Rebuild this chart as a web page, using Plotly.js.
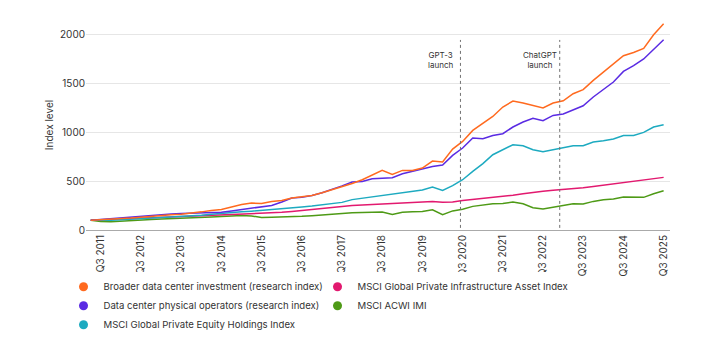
<!DOCTYPE html>
<html>
<head>
<meta charset="utf-8">
<script src="https://cdn.plot.ly/plotly-3.0.1.min.js"></script>
<style>html,body{margin:0;padding:0;background:#fff;}#chart{width:705px;height:354px;}</style>
</head>
<body>
<div id="chart"></div>
<script>
// Quarterly series, first point Q2 2011, last point Q3 2025 (58 quarters)
const startYear = 2011;
const startQuarter = 2;
const quarterCount = 58;

const broaderDataCenter = [100,104,110,115,122,130,140,148,155,162,172,185,200,210,235,260,275,270,290,300,326,340,353,380,410,439,475,513,561,608,567,608,608,632,704,694,826,904,1016,1085,1159,1255,1316,1296,1268,1245,1296,1319,1391,1432,1527,1612,1697,1779,1812,1853,1993,2105];
const physicalOperators = [100,108,118,128,138,145,152,158,163,168,173,175,178,182,195,208,222,238,250,285,326,335,353,380,411,450,490,496,523,528,534,574,600,625,649,663,761,837,939,932,965,983,1051,1102,1139,1115,1169,1184,1228,1268,1357,1432,1510,1618,1677,1745,1840,1942];
const privateEquity = [100,97,100,105,110,115,120,125,130,138,143,150,160,170,178,185,192,200,207,212,224,235,245,255,268,282,310,325,340,350,365,380,398,408,439,404,452,513,598,677,768,819,870,860,819,799,819,843,860,860,898,911,928,965,965,996,1051,1074];
const privateInfra = [100,104,108,112,116,120,124,128,132,136,140,144,148,152,156,160,164,168,174,180,190,200,210,222,235,242,250,256,262,268,272,278,284,288,292,282,285,300,310,318,330,343,355,370,385,395,405,412,420,432,445,458,470,485,495,505,520,537];
const acwiImi = [100,88,85,92,100,105,108,112,115,120,126,130,133,138,145,148,143,128,130,131,133,140,146,155,163,170,175,178,180,184,159,180,186,190,207,156,195,212,241,255,268,270,286,268,228,214,231,248,268,265,292,309,316,337,337,333,370,401];

const seriesNames = [
  "Broader data center investment (research index)",
  "MSCI Global Private Infrastructure Asset Index",
  "Data center physical operators (research index)",
  "MSCI ACWI IMI",
  "MSCI Global Private Equity Holdings Index"
];
const seriesColors = ["#FF6A1F", "#E2196F", "#5A2BE3", "#4E9A16", "#1DAAC0"];
const seriesValues = [broaderDataCenter, privateInfra, physicalOperators, acwiImi, privateEquity];

const tickYears = [2011,2012,2013,2014,2015,2016,2017,2018,2019,2020,2021,2022,2023,2024,2025];
const events = [
  {date: "2020-06-11", label: "GPT-3<br>launch"},
  {date: "2022-11-30", label: "ChatGPT<br>launch"}
];

function pad(n){return (n<10?"0":"")+n;}
const quarterDates = [];
for (let i = 0; i < quarterCount; i++) {
  const k = (startQuarter - 1) + i;
  const y = startYear + Math.floor(k / 4);
  const m = (k % 4) * 3 + 1;
  quarterDates.push(y + "-" + pad(m) + "-01");
}

const FONT = "Inter, 'Noto Sans', sans-serif";
const traces = [];
const drawOrder = [3, 1, 4, 2, 0];
drawOrder.forEach(function(s){
  traces.push({
    type: "scatter", mode: "lines",
    x: quarterDates, y: seriesValues[s],
    name: seriesNames[s],
    line: {color: seriesColors[s], width: 1.5},
    showlegend: false,
    hovertemplate: "%{y}<extra>" + seriesNames[s] + "</extra>"
  });
});
seriesNames.forEach(function(n, s){
  traces.push({
    type: "scatter", mode: "markers",
    x: [null], y: [null],
    name: n,
    marker: {color: seriesColors[s], size: 9, symbol: "circle"},
    showlegend: true
  });
});

const shapes = events.map(function(e){
  return {type: "line", xref: "x", yref: "paper", x0: e.date, x1: e.date, y0: 0.01, y1: 0.905,
          line: {color: "#707070", width: 1, dash: "3px,3px"}};
});
const annotations = events.map(function(e){
  return {xref: "x", yref: "paper", x: e.date, y: 0.81, xanchor: "center", yanchor: "middle",
          xshift: -20, text: e.label, showarrow: false, align: "center",
          font: {family: FONT, size: 8, color: "#333"}};
});

const layout = {
  width: 705, height: 354,
  paper_bgcolor: "#fff", plot_bgcolor: "#fff",
  margin: {l: 86, r: 35, t: 20, b: 124},
  font: {family: FONT, size: 10, color: "#333"},
  showlegend: true,
  legend: {
    orientation: "h", x: -0.0385, xanchor: "left", y: -0.201, yanchor: "top",
    entrywidth: 209, entrywidthmode: "pixels",
    font: {family: FONT, size: 9.6, color: "#333"},
    tracegroupgap: 0, itemclick: false
  },
  xaxis: {
    type: "date",
    range: ["2011-02-17", "2025-08-28"],
    tickvals: tickYears.map(function(y){return y + "-07-01";}),
    ticktext: tickYears.map(function(y){return "Q3 " + y;}),
    tickangle: -90,
    showgrid: false, zeroline: false,
    showline: true, linecolor: "#aaa", linewidth: 1,
    ticks: "", tickfont: {family: FONT, size: 10, color: "#333"}
  },
  yaxis: {
    range: [0, 2143],
    tickvals: [0, 500, 1000, 1500, 2000],
    showgrid: true, gridcolor: "#e6e6e6", gridwidth: 1,
    zeroline: false, showline: false, ticks: "",
    tickfont: {family: FONT, size: 10, color: "#333"},
    title: {text: "Index level", font: {family: FONT, size: 10, color: "#333"}, standoff: 4}
  },
  shapes: shapes,
  annotations: annotations
};

Plotly.newPlot("chart", traces, layout, {displayModeBar: false, staticPlot: true});
</script>
</body>
</html>
